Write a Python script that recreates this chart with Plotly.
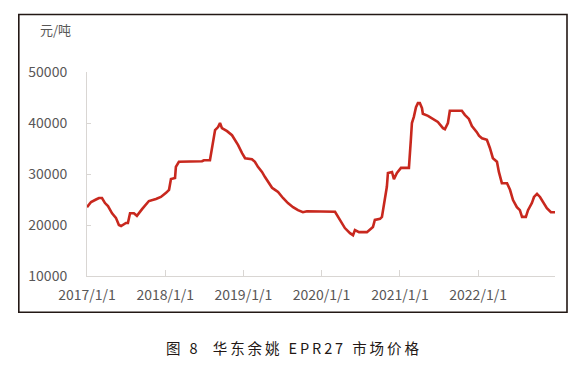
import plotly.graph_objects as go

dates = [
    "2017-01-01", "2017-01-20", "2017-02-12", "2017-02-26", "2017-03-12", "2017-03-26",
    "2017-04-09", "2017-04-28", "2017-05-16", "2017-05-30", "2017-06-09", "2017-07-02",
    "2017-07-11", "2017-07-21", "2017-08-08", "2017-08-22", "2017-09-15", "2017-10-03",
    "2017-10-17", "2017-11-19", "2017-12-12", "2018-01-05", "2018-01-19", "2018-01-28",
    "2018-02-16", "2018-02-20", "2018-03-06", "2018-06-22", "2018-07-01", "2018-07-29",
    "2018-08-08", "2018-08-12", "2018-08-22", "2018-09-05", "2018-09-14", "2018-09-23",
    "2018-10-17", "2018-11-09", "2018-11-23", "2018-12-07", "2018-12-26", "2019-01-09",
    "2019-02-10", "2019-02-24", "2019-03-10", "2019-03-29", "2019-04-12", "2019-04-26",
    "2019-05-15", "2019-05-29", "2019-06-12", "2019-07-05", "2019-07-28", "2019-08-21",
    "2019-09-13", "2019-10-06", "2019-10-25", "2020-03-04", "2020-03-18", "2020-04-05",
    "2020-04-19", "2020-05-13", "2020-05-27", "2020-06-05", "2020-06-14", "2020-06-24",
    "2020-07-31", "2020-08-14", "2020-08-28", "2020-09-06", "2020-09-30", "2020-10-09",
    "2020-10-14", "2020-10-23", "2020-11-01", "2020-11-06", "2020-11-25", "2020-12-04",
    "2020-12-18", "2021-01-06", "2021-02-12", "2021-02-21", "2021-02-26", "2021-03-07",
    "2021-03-17", "2021-03-26", "2021-04-04", "2021-04-14", "2021-04-18", "2021-05-12",
    "2021-06-04", "2021-06-27", "2021-07-21", "2021-07-30", "2021-08-13", "2021-08-22",
    "2021-10-17", "2021-10-31", "2021-11-19", "2021-12-03", "2021-12-26", "2022-01-05",
    "2022-01-19", "2022-02-11", "2022-02-25", "2022-03-11", "2022-03-30", "2022-04-08",
    "2022-04-22", "2022-05-16", "2022-05-30", "2022-06-13", "2022-07-01", "2022-07-15",
    "2022-07-25", "2022-08-12", "2022-08-22", "2022-09-09", "2022-09-19", "2022-10-03",
    "2022-10-17", "2022-10-31", "2022-11-18", "2022-12-07", "2022-12-26",
]

prices = [
    23500, 24500, 25000, 25300, 25300, 24300,
    23700, 22300, 21400, 20000, 19800, 20400,
    20400, 22300, 22300, 21800, 23100, 23900,
    24700, 25100, 25500, 26300, 26900, 29000,
    29200, 31400, 32400, 32500, 32700, 32700,
    35100, 36300, 38600, 39200, 40000, 39000,
    38400, 37600, 36700, 35700, 34100, 33100,
    32900, 32400, 31400, 30400, 29400, 28400,
    27300, 26900, 26500, 25300, 24300, 23500,
    22900, 22500, 22700, 22600, 21600, 20400,
    19400, 18400, 18000, 19000, 18800, 18600,
    18600, 19200, 19600, 21000, 21200, 21600,
    22900, 24900, 27500, 30200, 30400, 29000,
    30200, 31200, 31200, 36700, 40000, 41200,
    43100, 43900, 43900, 42900, 41800, 41400,
    40800, 40200, 39000, 38800, 40000, 42400,
    42400, 41600, 40800, 39400, 38200, 37500,
    37000, 36700, 35100, 33100, 32400, 30400,
    28200, 28200, 26900, 24900, 23500, 22900,
    21600, 21600, 22900, 24300, 25500, 26100,
    25500, 24500, 23300, 22500, 22500,
]

tick_dates = ["2017-01-01", "2018-01-01", "2019-01-01", "2020-01-01", "2021-01-01", "2022-01-01"]
tick_labels = ["2017/1/1", "2018/1/1", "2019/1/1", "2020/1/1", "2021/1/1", "2022/1/1"]
y_ticks = [10000, 20000, 30000, 40000, 50000]

unit_label = "元/吨"
title_text = "图 8  华东余姚 EPR27 市场价格"

FONT = "Noto Sans CJK SC, Noto Sans, sans-serif"
GRAY = "#595757"
AXIS = "#d9d6d3"

fig = go.Figure()
fig.add_trace(go.Scatter(
    x=dates, y=prices, mode="lines",
    line=dict(color="#C8281E", width=2.6),
    hoverinfo="skip", showlegend=False,
))

fig.update_layout(
    width=579, height=377,
    margin=dict(l=87, r=24, t=72, b=101),
    paper_bgcolor="white", plot_bgcolor="rgba(0,0,0,0)",
    font=dict(family=FONT, size=14, color=GRAY),
    showlegend=False,
)

fig.update_xaxes(
    type="date",
    range=["2017-01-01", "2022-12-26"],
    tickvals=tick_dates, ticktext=tick_labels,
    showline=True, linecolor=AXIS, linewidth=1,
    ticks="inside", ticklen=6, tickcolor=AXIS, tickwidth=1,
    showgrid=False, zeroline=False,
    tickfont=dict(family=FONT, size=14, color=GRAY),
    ticklabelstandoff=6,
)
fig.update_yaxes(
    range=[10000, 50000],
    tickvals=y_ticks, ticktext=[str(v) for v in y_ticks],
    showline=True, linecolor=AXIS, linewidth=1,
    ticks="inside", ticklen=4, tickcolor=AXIS, tickwidth=1,
    showgrid=False, zeroline=False,
    tickfont=dict(family=FONT, size=14, color=GRAY),
    ticklabelstandoff=16,
)

# outer frame
fig.add_shape(
    type="rect", xref="paper", yref="paper",
    x0=(18.8 - 87) / 468, x1=(567 - 87) / 468,
    y0=(276 - 312.3) / 204, y1=(276 - 14.5) / 204,
    line=dict(color="#231815", width=1.6), fillcolor="rgba(0,0,0,0)",
    layer="below",
)

fig.add_annotation(
    text=unit_label, xref="paper", yref="paper",
    x=(55.7 - 87) / 468, y=(276 - 29) / 204,
    xanchor="center", yanchor="middle", showarrow=False,
    font=dict(family=FONT, size=13, color=GRAY),
)

fig.add_annotation(
    text="\u2009".join(title_text), xref="paper", yref="paper",
    x=(292 - 87) / 468, y=(276 - 347) / 204,
    xanchor="center", yanchor="middle", showarrow=False,
    font=dict(family=FONT, size=14.5, color="#231815"),
)

fig.write_html(
    "out.html",
    config={"displayModeBar": False},
    post_script="document.body.style.margin='0';document.body.style.padding='0';",
)
